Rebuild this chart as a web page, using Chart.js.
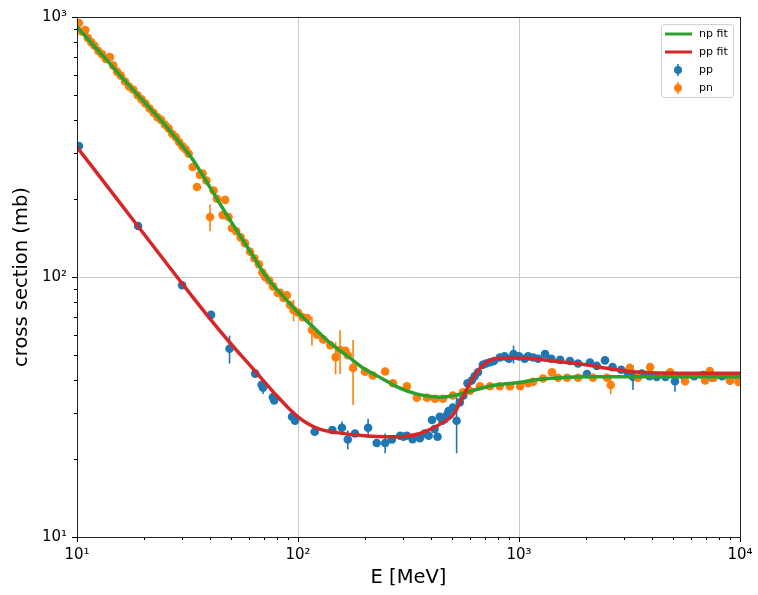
<!DOCTYPE html>
<html>
<head>
<meta charset="utf-8">
<script src="https://cdn.jsdelivr.net/npm/chart.js@4"></script>
<style>
  html, body { margin: 0; padding: 0; background: #fff; }
</style>
</head>
<body>
<canvas id="grafico" width="758" height="595"></canvas>
<script>
// Dados (E em MeV, secção eficaz em mb)
const npFitE = [10, 11, 12, 13, 14, 15, 17, 20, 24, 28, 33.5, 40, 47.7, 55, 62, 72, 85, 100, 120, 140, 170, 197, 240, 281, 340, 437, 510, 582, 680, 795, 1000, 1245, 1600, 2000, 3000, 5000, 10000];
const npFitSigma = [915, 838, 770, 715, 666, 622, 552, 474, 400, 342, 282, 221, 173, 143, 122, 100, 85, 73, 63, 55.7, 49.2, 44.7, 40.7, 37.8, 35.6, 34.5, 35, 36.1, 37.4, 38.5, 39.3, 40.4, 41.1, 41.3, 41.3, 41.3, 41.3];

const ppFitE = [10, 15, 20, 30, 40, 50, 60, 70, 80, 90, 100, 110, 125, 150, 200, 250, 289, 356, 409, 453, 502, 558, 600, 645, 716, 818, 1000, 1200, 1535, 2000, 2330, 3180, 4500, 6000, 10000];
const ppFitSigma = [316, 202, 147, 94, 69, 55, 46.2, 39.8, 35, 31.5, 29, 27.4, 26, 25.2, 24.5, 24.3, 24.3, 25, 26.3, 27.6, 29.4, 34.6, 39, 43, 47.1, 48.7, 48.8, 48.4, 47.2, 46, 45, 43.3, 42.7, 42.6, 42.6];

const ppE = [10.2, 18.9, 29.9, 40.4, 49, 64, 68.5, 69.5, 77, 78, 94, 97, 119, 143, 158, 168, 181, 207.6, 227, 248, 266, 290, 300, 311, 330, 356, 374, 390, 404, 415, 428, 438, 450, 471, 480, 502, 522, 540, 560, 585, 611, 630, 652, 686, 710, 740, 770, 818, 860, 900, 945, 1000, 1060, 1100, 1160, 1220, 1312, 1400, 1535, 1700, 1850, 2030, 2095, 2250, 2450, 2650, 2900, 3100, 3280, 3600, 3900, 4200, 4600, 5080, 5600, 6200, 6800, 7500, 8300, 9010, 9850];
const ppSigma = [319, 157, 93, 71.5, 53, 42.5, 38.5, 37.5, 34.5, 33.5, 29, 28, 25.4, 25.8, 26.3, 23.7, 25, 26.3, 23, 23, 23.7, 24.5, 24.3, 24.5, 23.8, 24, 25, 24.5, 28.2, 26, 24.3, 29, 28, 29.4, 30.5, 31.5, 28, 33, 35, 39, 40, 41.5, 43, 46, 46.5, 47, 47.5, 49, 49.5, 48.5, 50.5, 49.5, 48.5, 49.5, 49, 48.5, 50.5, 48.5, 48, 47.5, 46.5, 42.3, 46.9, 45.5, 47.8, 45, 44, 43, 41.3, 42.5, 41.5, 41.3, 41.3, 39.7, 41.3, 41.5, 42, 41, 41.5, 40, 41];
const ppErr = [0, 0, 0, 0, 6.5, 0, 0, 2, 0, 0, 0, 0, 0, 0, 1.5, 2, 0, 2.2, 0, 2, 0, 0, 0, 0, 0, 0, 0, 0, 0, 0, 0, 0, 0, 2, 0, 0, 7, 0, 0, 0, 0, 0, 0, 0, 0, 0, 0, 0, 0, 0, 4, 0, 0, 0, 0, 0, 0, 0, 0, 0, 0, 0, 0, 0, 0, 0, 0, 0, 4.5, 0, 0, 0, 0, 3.5, 0, 0, 0, 0, 0, 0, 0];

const pnE = [10.2, 10.5, 10.9, 11.2, 11.6, 12.0, 12.5, 13.0, 13.5, 14.1, 14.6, 15.2, 15.8, 16.5, 17.2, 18.0, 18.8, 19.6, 20.4, 21.3, 22.2, 23.1, 24.0, 25.0, 26.0, 27.0, 28.0, 29.0, 30.0, 31.0, 32.0, 33.4, 34.9, 36.0, 37.0, 38.5, 40.0, 41.5, 43.0, 45.6, 46.8, 48.5, 50.3, 52.5, 55.0, 57.5, 60.7, 63.5, 66.5, 69.0, 71.0, 74.0, 77.0, 81.0, 83.0, 86.0, 89.0, 92.0, 95.5, 100, 105, 110, 115.6, 122, 130, 140, 148, 155, 164, 168, 177.5, 201, 218, 248, 269, 311, 345, 384, 417, 453, 502, 558, 600, 666, 740, 818, 910, 1012, 1100, 1157, 1285, 1410, 1500, 1650, 1850, 2160, 2500, 2600, 3170, 3450, 3920, 4830, 5640, 6950, 7300, 7600, 9010, 9850];
const pnSigma = [948, 880, 890, 830, 800, 775, 740, 718, 690, 701, 650, 615, 595, 565, 540, 525, 500, 482, 465, 445, 428, 412, 402, 385, 372, 355, 345, 330, 318, 310, 298, 265, 222, 247, 250, 235, 170, 215, 200, 173, 198, 170, 154, 150, 142, 135, 125, 118, 112, 104, 100, 97, 92, 86.8, 87, 83, 85, 78, 74.6, 73, 70, 69.5, 62.5, 60, 57.5, 54.7, 49.2, 52.4, 52, 50, 44.7, 43.2, 41.8, 43.3, 39, 38, 34.3, 34.3, 34, 34, 35, 36, 36.5, 38, 38, 38, 38, 38, 39, 39.5, 40.7, 43, 41, 41, 41, 41, 41, 38.4, 44.7, 41, 45, 43, 39.7, 40, 43.5, 41, 40, 39.5];
const pnErr = [0, 0, 0, 0, 0, 0, 0, 0, 0, 0, 0, 0, 0, 0, 0, 0, 0, 0, 0, 0, 0, 0, 0, 0, 0, 0, 0, 0, 0, 0, 0, 0, 0, 0, 0, 0, 20, 0, 0, 0, 0, 0, 0, 0, 0, 0, 0, 0, 0, 0, 0, 0, 0, 0, 0, 0, 0, 0, 7, 0, 0, 0, 8, 0, 0, 0, 7, 10, 0, 0, 12.5, 0, 0, 0, 0, 0, 0, 0, 0, 0, 0, 0, 0, 0, 0, 0, 0, 0, 0, 0, 0, 0, 0, 0, 0, 0, 0, 3, 0, 0, 0, 0, 0, 0, 0, 0, 0, 0];

const valoresTicksX = [10, 100, 1000, 10000];
const rotulosTicksX = ['10\u00B9', '10\u00B2', '10\u00B3', '10\u2074'];
const valoresTicksY = [10, 100, 1000];
const rotulosTicksY = ['10\u00B9', '10\u00B2', '10\u00B3'];

const AZUL = '#1f77b4';
const LARANJA = '#ff7f0e';
const VERDE = '#2ca02c';
const VERMELHO = '#d62728';
const FONTE = '"DejaVu Sans", sans-serif';

function pontos(xs, ys) {
  return xs.map((x, i) => ({ x: x, y: ys[i] }));
}

// ticks de 1..9 em cada década (principais nas potências de 10)
function ticksLog(min, max) {
  const out = [];
  for (let d = min; d < max; d *= 10) {
    for (let k = 1; k < 10; k++) out.push({ value: d * k, major: k === 1 });
  }
  out.push({ value: max, major: true });
  return out;
}

// Barras de erro verticais
const barrasErroPlugin = {
  id: 'barrasErro',
  beforeDatasetDraw(chart, args) {
    const ds = chart.data.datasets[args.index];
    if (!ds.erros) return;
    const y = chart.scales.y;
    const ctx = chart.ctx;
    ctx.save();
    ctx.strokeStyle = ds.backgroundColor;
    ctx.lineWidth = 1.6;
    args.meta.data.forEach((el, i) => {
      const e = ds.erros[i];
      if (!e) return;
      const v = ds.data[i].y;
      ctx.beginPath();
      ctx.moveTo(el.x, y.getPixelForValue(v - e));
      ctx.lineTo(el.x, y.getPixelForValue(v + e));
      ctx.stroke();
    });
    ctx.restore();
  },
};

// Moldura e marcas dos eixos (estilo matplotlib)
const molduraPlugin = {
  id: 'moldura',
  afterDraw(chart) {
    const { ctx, chartArea: a, scales } = chart;
    ctx.save();
    ctx.strokeStyle = '#000';
    ctx.lineWidth = 1;
    scales.x.ticks.forEach((t) => {
      const px = Math.round(scales.x.getPixelForValue(t.value)) + 0.5;
      ctx.beginPath();
      ctx.moveTo(px, a.bottom);
      ctx.lineTo(px, a.bottom + (t.major ? 5 : 3));
      ctx.stroke();
    });
    scales.y.ticks.forEach((t) => {
      const py = Math.round(scales.y.getPixelForValue(t.value)) + 0.5;
      ctx.beginPath();
      ctx.moveTo(a.left, py);
      ctx.lineTo(a.left - (t.major ? 5 : 3), py);
      ctx.stroke();
    });
    ctx.strokeStyle = '#222';
    ctx.strokeRect(Math.round(a.left) + 0.5, Math.round(a.top) + 0.5,
      Math.round(a.right - a.left), Math.round(a.bottom - a.top));
    ctx.restore();
  },
};

// Legenda dentro da área do gráfico, canto superior direito
const legendaPlugin = {
  id: 'legendaInterna',
  afterDraw(chart) {
    const { ctx, chartArea: a } = chart;
    const w = 72, h = 73;
    const x0 = Math.round(a.right) - 7 - w;
    const y0 = Math.round(a.top) + 7;
    ctx.save();
    ctx.fillStyle = 'rgba(255,255,255,0.8)';
    ctx.strokeStyle = '#d0d0d0';
    ctx.lineWidth = 1;
    ctx.beginPath();
    ctx.roundRect(x0 + 0.5, y0 + 0.5, w, h, 3);
    ctx.fill();
    ctx.stroke();
    ctx.font = '11px ' + FONTE;
    ctx.textBaseline = 'middle';
    ctx.fillStyle = '#000';
    chart.data.datasets.forEach((ds, i) => {
      const cy = y0 + 10 + i * 18;
      if (ds.type === 'line') {
        ctx.strokeStyle = ds.borderColor;
        ctx.lineWidth = 3;
        ctx.beginPath();
        ctx.moveTo(x0 + 4, cy);
        ctx.lineTo(x0 + 31, cy);
        ctx.stroke();
      } else {
        ctx.strokeStyle = ds.backgroundColor;
        ctx.lineWidth = 1.6;
        ctx.beginPath();
        ctx.moveTo(x0 + 17, cy - 6);
        ctx.lineTo(x0 + 17, cy + 6);
        ctx.stroke();
        ctx.fillStyle = ds.backgroundColor;
        ctx.beginPath();
        ctx.arc(x0 + 17, cy, 4, 0, Math.PI * 2);
        ctx.fill();
      }
      ctx.fillStyle = '#000';
      ctx.fillText(ds.label, x0 + 38, cy);
    });
    ctx.restore();
  },
};

new Chart(document.getElementById('grafico'), {
  data: {
    datasets: [
      {
        type: 'line', label: 'np fit', data: pontos(npFitE, npFitSigma),
        borderColor: VERDE, borderWidth: 3.5, pointRadius: 0, fill: false,
        cubicInterpolationMode: 'monotone', order: 1,
      },
      {
        type: 'line', label: 'pp fit', data: pontos(ppFitE, ppFitSigma),
        borderColor: VERMELHO, borderWidth: 3.5, pointRadius: 0, fill: false,
        cubicInterpolationMode: 'monotone', order: 0,
      },
      {
        type: 'scatter', label: 'pp', data: pontos(ppE, ppSigma), erros: ppErr,
        backgroundColor: AZUL, borderColor: AZUL, borderWidth: 0, pointRadius: 4.3, order: 3,
      },
      {
        type: 'scatter', label: 'pn', data: pontos(pnE, pnSigma), erros: pnErr,
        backgroundColor: LARANJA, borderColor: LARANJA, borderWidth: 0, pointRadius: 4.3, order: 2,
      },
    ],
  },
  options: {
    responsive: false,
    animation: false,
    devicePixelRatio: 1,
    layout: { padding: { left: 0, right: 18, top: 17, bottom: 0 } },
    plugins: { legend: { display: false }, tooltip: { enabled: false } },
    scales: {
      x: {
        type: 'logarithmic', min: 10, max: 10000,
        afterBuildTicks: (s) => { s.ticks = ticksLog(10, 10000); },
        afterFit: (s) => { s.height = 58; s.paddingLeft = 0; s.paddingRight = 0; },
        grid: {
          color: (c) => (c.tick && c.tick.major ? '#c8c8c8' : 'rgba(0,0,0,0)'),
          drawTicks: false, lineWidth: 1,
        },
        border: { display: false },
        ticks: {
          autoSkip: false, maxRotation: 0, padding: 9, color: '#000',
          font: { family: FONTE, size: 15 },
          callback: (v) => {
            const i = valoresTicksX.indexOf(v);
            return i >= 0 ? rotulosTicksX[i] : '';
          },
        },
        title: {
          display: true, text: 'E [MeV]', color: '#000',
          font: { family: FONTE, size: 19.5 }, padding: { top: 0, bottom: 5 },
        },
      },
      y: {
        type: 'logarithmic', min: 10, max: 1000,
        afterBuildTicks: (s) => { s.ticks = ticksLog(10, 1000); },
        afterFit: (s) => { s.width = 77; s.paddingTop = 0; s.paddingBottom = 0; },
        grid: {
          color: (c) => (c.tick && c.tick.major ? '#c8c8c8' : 'rgba(0,0,0,0)'),
          drawTicks: false, lineWidth: 1,
        },
        border: { display: false },
        ticks: {
          autoSkip: false, padding: 10, color: '#000',
          font: { family: FONTE, size: 15 },
          callback: (v) => {
            const i = valoresTicksY.indexOf(v);
            return i >= 0 ? rotulosTicksY[i] : '';
          },
        },
        title: {
          display: true, text: 'cross section (mb)', color: '#000',
          font: { family: FONTE, size: 19.5 }, padding: { top: 10, bottom: 0 },
        },
      },
    },
  },
  plugins: [barrasErroPlugin, molduraPlugin, legendaPlugin],
});
</script>
</body>
</html>
